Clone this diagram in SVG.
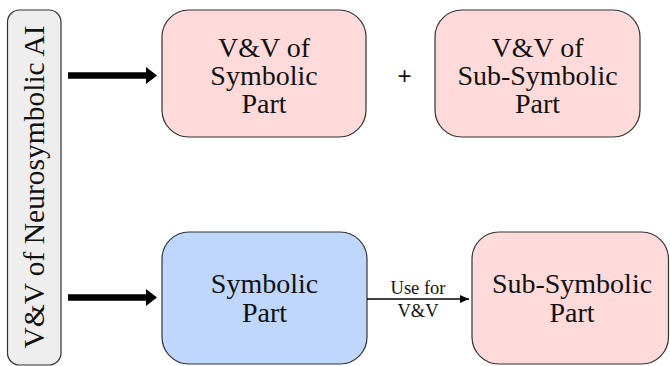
<svg xmlns="http://www.w3.org/2000/svg" width="670" height="366" viewBox="0 0 670 366">
<style>
.box{stroke:#333;stroke-width:1.2}
.pink{fill:#ffdada}
.blue{fill:#bfd6fd}
.gray{fill:#eeeeee}
.t{fill:#111;text-anchor:middle;font-family:"Liberation Serif","Times New Roman",serif}
.big{font-size:28px}
.small{font-size:18.5px}
.plus{font-size:24px;text-anchor:middle;fill:#111;font-family:"Liberation Sans",sans-serif}
</style>
<defs>
<marker id="thin" markerWidth="10" markerHeight="8" refX="9" refY="4" orient="auto" markerUnits="userSpaceOnUse">
<path d="M0,0 L9,4 L0,8 Z" fill="#000"/>
</marker>
</defs>
<g id="left">
<rect class="box gray" x="7.5" y="10" width="53.5" height="355" rx="12"/>
<g font-family="Liberation Serif"><text class="t" font-size="29.5" transform="translate(44,187) rotate(-90)">V&amp;V of Neurosymbolic AI</text></g>
</g>
<g id="vv-symbolic">
<rect class="box pink" x="162" y="10" width="204" height="127" rx="27"/>
<g font-family="Liberation Serif">
<text class="t big" x="264" y="57">V&amp;V of</text>
<text class="t big" x="264" y="85">Symbolic</text>
<text class="t big" x="264" y="113">Part</text>
</g>
</g>
<g id="plus">
<text class="plus" x="404.5" y="84">+</text>
</g>
<g id="vv-subsymbolic">
<rect class="box pink" x="435" y="10" width="205" height="127" rx="27"/>
<g font-family="Liberation Serif">
<text class="t big" x="537.5" y="57">V&amp;V of</text>
<text class="t big" x="537.5" y="85">Sub-Symbolic</text>
<text class="t big" x="537.5" y="113">Part</text>
</g>
</g>
<g id="symbolic">
<rect class="box blue" x="162" y="232" width="205" height="132" rx="27"/>
<g font-family="Liberation Serif">
<text class="t big" x="264.5" y="293">Symbolic</text>
<text class="t big" x="264.5" y="322">Part</text>
</g>
</g>
<g id="subsymbolic">
<rect class="box pink" x="472" y="232" width="196.5" height="132" rx="27"/>
<g font-family="Liberation Serif">
<text class="t big" x="572" y="293">Sub-Symbolic</text>
<text class="t big" x="572" y="322">Part</text>
</g>
</g>
<g id="connectors">
<line x1="68" y1="75.5" x2="148" y2="75.5" stroke="#000" stroke-width="6.5"/>
<path d="M146,67 L157,75.5 L146,84 Z" fill="#000"/>
<line x1="68" y1="297.5" x2="148" y2="297.5" stroke="#000" stroke-width="6.5"/>
<path d="M146,289 L157,297.5 L146,306 Z" fill="#000"/>
<line x1="367" y1="299" x2="469" y2="299" stroke="#000" stroke-width="1.5" marker-end="url(#thin)"/>
<text class="t small" x="418" y="294">Use for</text>
<text class="t small" x="418" y="316.5">V&amp;V</text>
</g>
</svg>
